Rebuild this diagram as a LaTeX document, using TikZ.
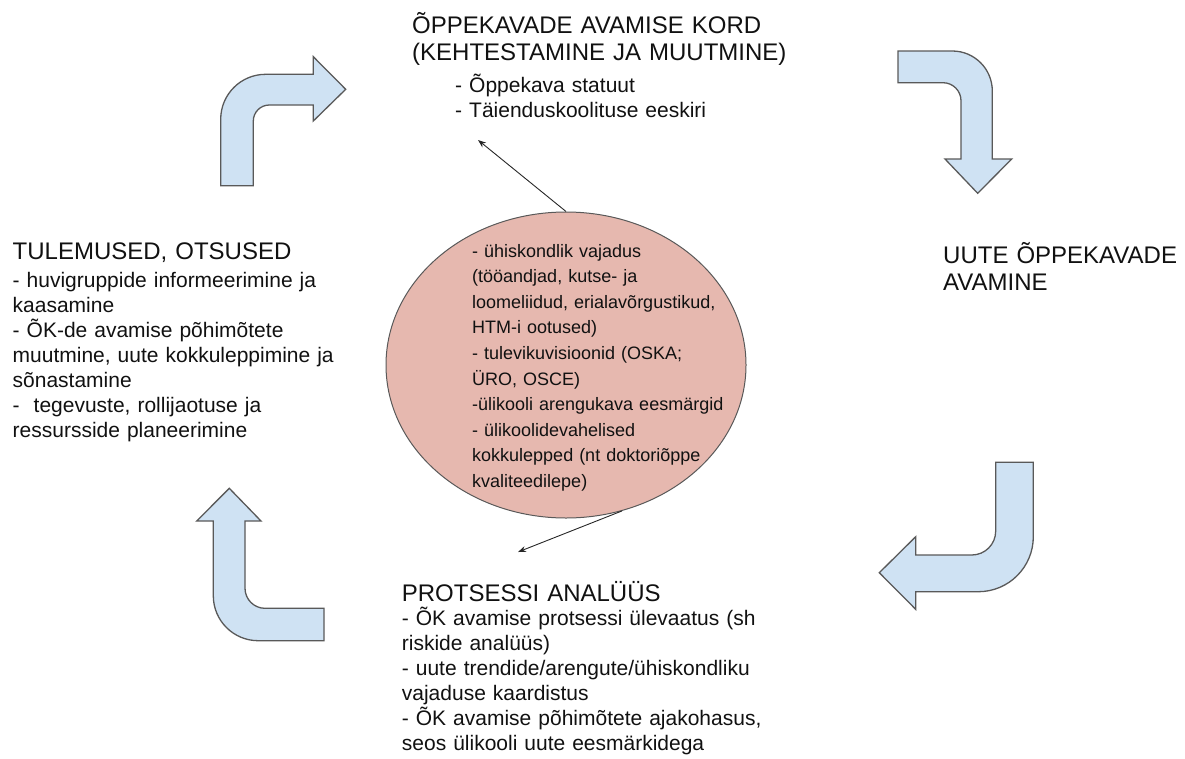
\documentclass[tikz,border=0pt]{standalone}
\usepackage{fontspec}
\setmainfont{Liberation Sans}
\usetikzlibrary{arrows.meta,shapes.geometric}
\definecolor{blk}{HTML}{CFE2F3}
\definecolor{edgec}{HTML}{595959}
\definecolor{salmon}{HTML}{E6B8AF}
\definecolor{ink}{HTML}{111111}
\begin{document}
\begin{tikzpicture}[x=1pt,y=-1pt,
  bendarrow/.style={draw=edgec, line width=1.3pt, fill=blk, line join=miter},
  txt/.style={anchor=base west, inner sep=0pt, align=left, text width=420pt, text=ink},
  headtxt/.style={txt, font=\fontsize{24}{27.5}\selectfont},
  itemtxt/.style={txt, font=\fontsize{21}{25}\selectfont},
  notetxt/.style={txt, font=\fontsize{18}{25.6}\selectfont},
  conn/.style={draw=black!85, line width=0.9pt, -{Stealth[length=8pt,width=6pt]}}]
\useasboundingbox (0,0) rectangle (1185,758);

% block arrows
\draw[bendarrow] (220.7,185.7) -- (220.7,119.3) .. controls (220.7,94.4) and (240.8,74.3) .. (265.7,74.3)
  -- (313.3,74.3) -- (313.3,56.7) -- (345.7,89.3) -- (313.3,121) -- (313.3,105) -- (269.3,105)
  .. controls (260.5,105) and (253.3,112.2) .. (253.3,121) -- (253.3,185.7) -- cycle;
\draw[bendarrow] (898,51) -- (952.3,51) .. controls (974.4,51) and (992.3,68.9) .. (992.3,91)
  -- (992.3,159) -- (1011.7,159) -- (977.7,193.3) -- (945,159) -- (961,159) -- (961,100.7)
  .. controls (961,90.8) and (952.9,82.7) .. (943,82.7) -- (898,82.7) -- cycle;
\draw[bendarrow] (995.7,462.3) -- (1033.3,462.3) -- (1033.3,536.7) .. controls (1033.3,567.1) and (1008.7,591.7) .. (978.3,591.7)
  -- (915.7,591.7) -- (915.7,609.3) -- (879.3,572.7) -- (915.7,536.7) -- (915.7,555) -- (971.7,555)
  .. controls (985,555) and (995.7,544.3) .. (995.7,531) -- cycle;
\draw[bendarrow] (324,640.7) -- (258.3,640.7) .. controls (233.4,640.7) and (213.3,620.6) .. (213.3,595.7)
  -- (213.3,521) -- (196.7,521) -- (229.3,488.3) -- (261,521) -- (245,521) -- (245,588.3)
  .. controls (245,599.3) and (254,608.3) .. (265,608.3) -- (324,608.3) -- cycle;

% central ellipse
\node[ellipse, draw=edgec, fill=salmon, line width=1pt, minimum width=360pt, minimum height=306pt, inner sep=0pt] (ell) at (566,365) {};
\node[notetxt] (elltxt) at (472,257) {- ühiskondlik vajadus\\
(tööandjad, kutse- ja\\
loomeliidud, erialavõrgustikud,\\
HTM-i ootused)\\
- tulevikuvisioonid (OSKA;\\
ÜRO, OSCE)\\
-ülikooli arengukava eesmärgid\\
- ülikoolidevahelised\\
kokkulepped (nt doktoriõppe\\
kvaliteedilepe)};

% connectors
\coordinate (topTip) at (478,140);
\coordinate (botTip) at (518,552);
\draw[conn] (ell.north) -- (topTip);
\draw[conn] (ell.-69) -- (botTip);

% top
\node[headtxt] (toph) at (412,33) {ÕPPEKAVADE AVAMISE KORD\\(KEHTESTAMINE JA MUUTMINE)};
\node[itemtxt] (topi) at (455,92.5) {- Õppekava statuut\\- Täienduskoolituse eeskiri};

% right
\node[headtxt] (righth) at (943,263) {UUTE ÕPPEKAVADE\\AVAMINE};

% left
\node[headtxt] (lefth) at (12.5,259) {TULEMUSED, OTSUSED};
\node[itemtxt] (lefti) at (12.5,287) {- huvigruppide informeerimine ja\\
kaasamine\\
- ÕK-de avamise põhimõtete\\
muutmine, uute kokkuleppimine ja\\
sõnastamine\\
- \ tegevuste, rollijaotuse ja\\
ressursside planeerimine};

% bottom
\node[headtxt] (both) at (401.7,601.7) {PROTSESSI ANALÜÜS};
\node[itemtxt] (boti) at (401.7,625) {- ÕK avamise protsessi ülevaatus (sh\\
riskide analüüs)\\
- uute trendide/arengute/ühiskondliku\\
vajaduse kaardistus\\
- ÕK avamise põhimõtete ajakohasus,\\
seos ülikooli uute eesmärkidega};
\end{tikzpicture}
\end{document}
